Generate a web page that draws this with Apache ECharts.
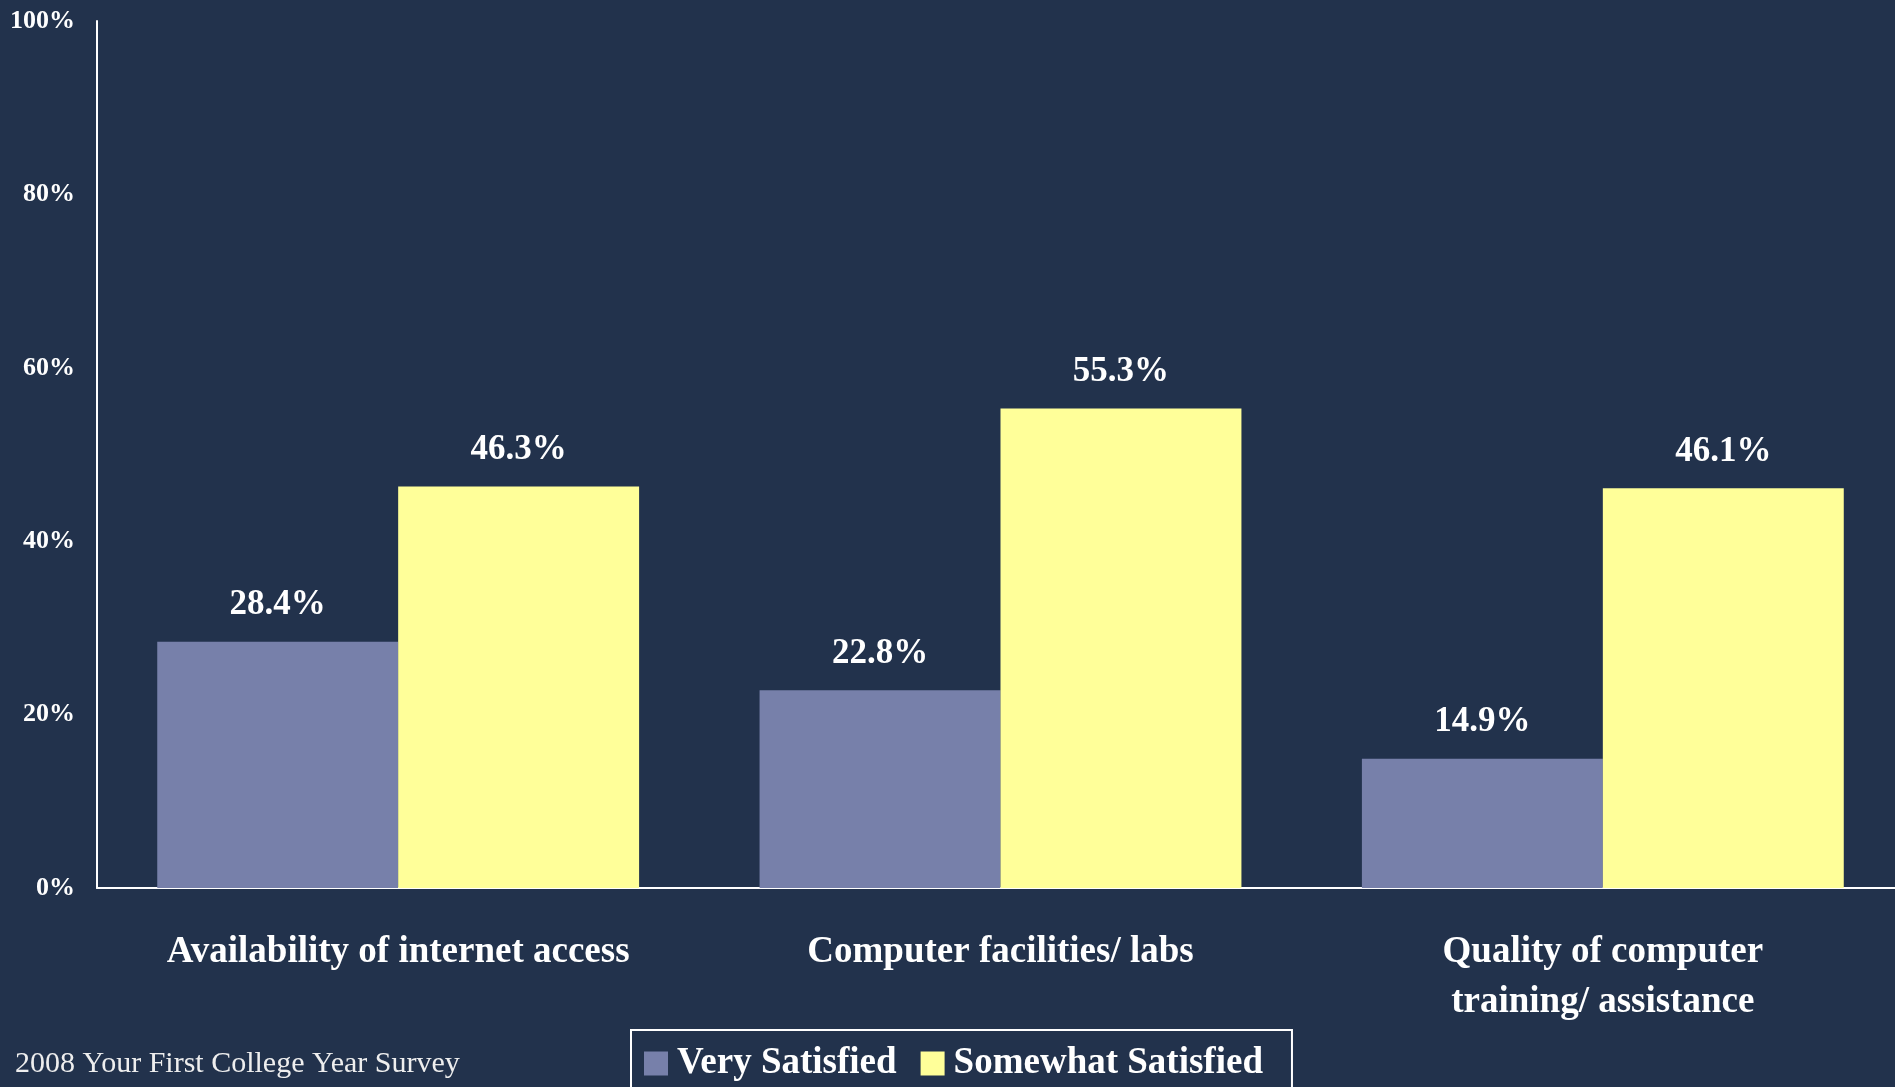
<!DOCTYPE html>
<html>
<head>
    <meta charset="utf-8">
    <title>Computer satisfaction</title>
    <script src="https://cdn.jsdelivr.net/npm/echarts@6/dist/echarts.min.js"></script>
    <style>
        *{margin: 0;padding: 0;}
        body{background: #22324c;}
    </style>
</head>
<body>
    <div id="main" style="width: 1895px;height:1087px;"></div>
    <script type="text/javascript">
        // data
        var categories = ['Availability of internet access', 'Computer facilities/ labs', 'Quality of computer\ntraining/ assistance'];
        var verySatisfied = [28.4, 22.8, 14.9];
        var somewhatSatisfied = [46.3, 55.3, 46.1];
        var seriesNames = ['Very Satisfied', 'Somewhat Satisfied'];
        var footnote = '2008 Your First College Year Survey';

        var serif = '"Liberation Serif", "Times New Roman", serif';
        var myChart = echarts.init(document.getElementById('main'));

        var barLabel = {
            show: true,
            position: 'top',
            distance: 19,
            formatter: '{c}%',
            color: '#ffffff',
            fontFamily: serif,
            fontWeight: 'bold',
            fontSize: 35
        };

        option = {
            backgroundColor: '#22324c',
            animation: false,
            title: {
                text: footnote,
                left: 15,
                top: 1049,
                padding: 0,
                textStyle: {
                    color: '#eeeeee',
                    fontFamily: serif,
                    fontWeight: 'normal',
                    fontSize: 30
                }
            },
            legend: {
                data: seriesNames,
                left: 631,
                top: 1030,
                padding: [15, 29, 45, 13],
                itemWidth: 24,
                itemHeight: 24,
                itemGap: 24,
                icon: 'rect',
                borderColor: '#ffffff',
                borderWidth: 2,
                textStyle: {
                    color: '#ffffff',
                    fontFamily: serif,
                    fontWeight: 'bold',
                    fontSize: 37,
                    padding: [0, 0, 0, 4]
                }
            },
            grid: {
                left: 97,
                top: 21,
                width: 1807,
                height: 867,
                outerBoundsMode: 'none'
            },
            xAxis: {
                type: 'category',
                data: categories,
                axisLine: {lineStyle: {color: '#ffffff', width: 2}},
                axisTick: {show: false},
                axisLabel: {
                    interval: 0,
                    margin: 39,
                    color: '#ffffff',
                    fontFamily: serif,
                    fontWeight: 'bold',
                    fontSize: 37,
                    lineHeight: 50
                }
            },
            yAxis: {
                type: 'value',
                min: 0,
                max: 100,
                interval: 20,
                splitLine: {show: false},
                axisLine: {show: true, lineStyle: {color: '#ffffff', width: 2}},
                axisTick: {show: false},
                axisLabel: {
                    formatter: '{value}%',
                    margin: 22,
                    color: '#ffffff',
                    fontFamily: serif,
                    fontWeight: 'bold',
                    fontSize: 26
                }
            },
            series: [
                {
                    name: seriesNames[0],
                    type: 'bar',
                    data: verySatisfied,
                    barGap: '0%',
                    barCategoryGap: '20%',
                    itemStyle: {color: '#7780aa'},
                    label: barLabel
                },
                {
                    name: seriesNames[1],
                    type: 'bar',
                    data: somewhatSatisfied,
                    barGap: '0%',
                    barCategoryGap: '20%',
                    itemStyle: {color: '#ffff99'},
                    label: barLabel
                }
            ]
        };

        myChart.setOption(option);
    </script>
</body>
</html>
